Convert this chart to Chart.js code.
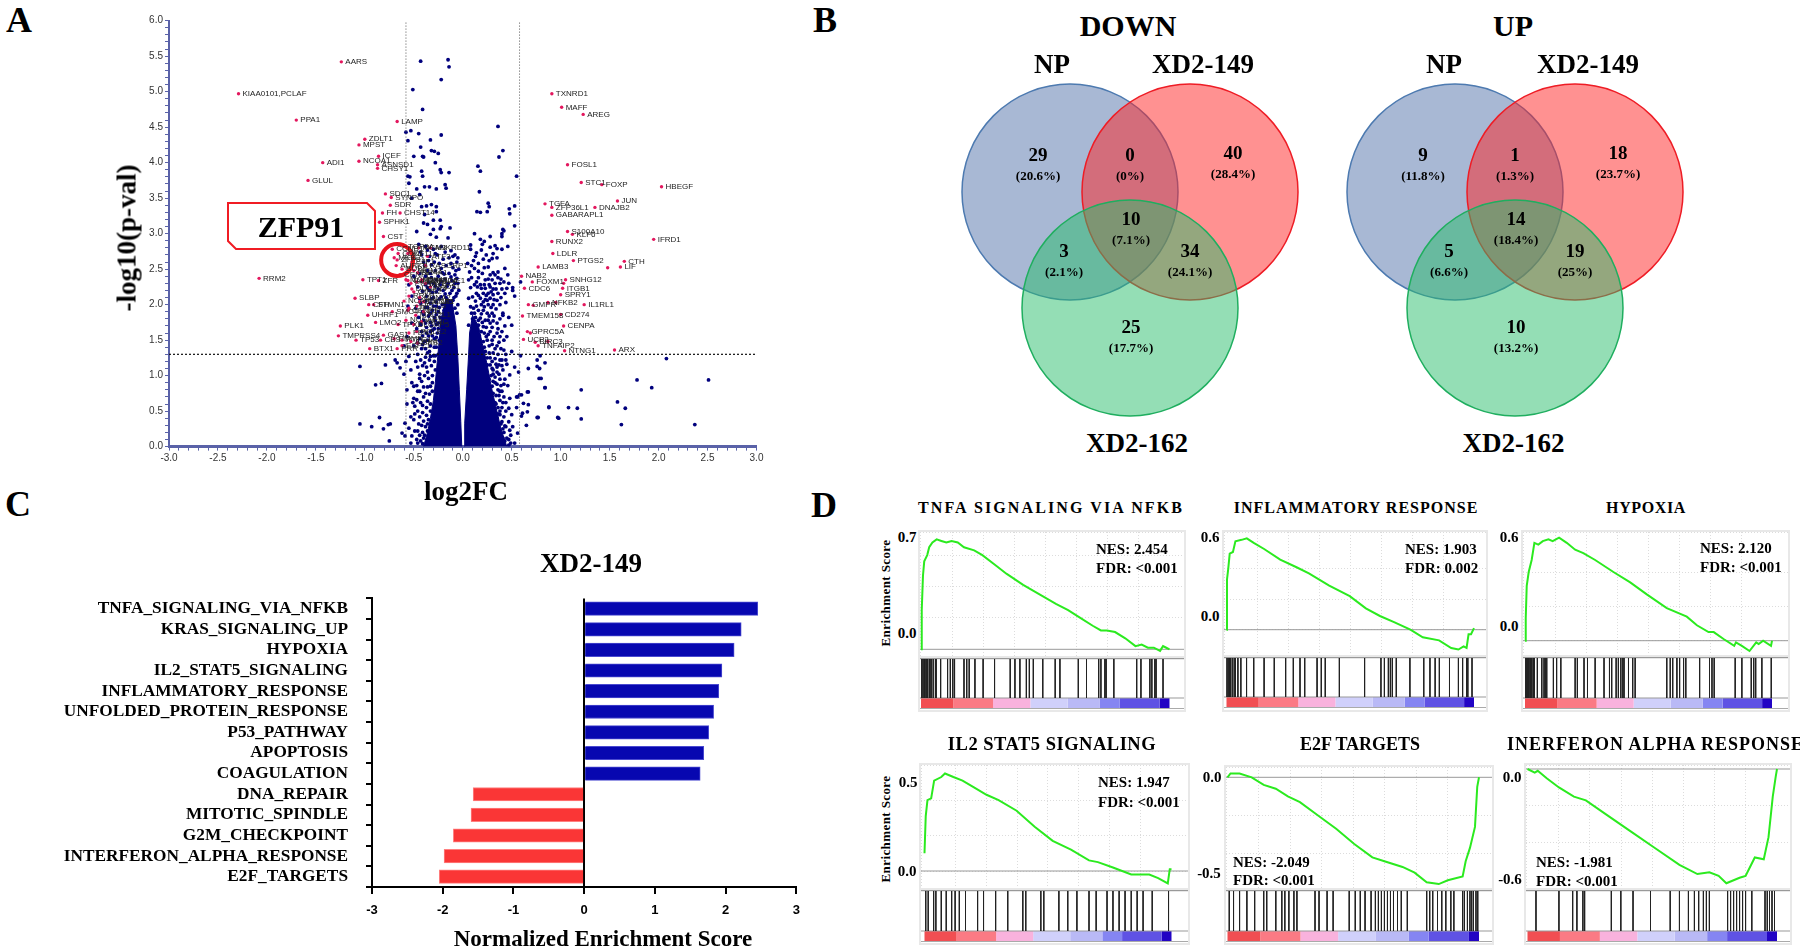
<!DOCTYPE html>
<html>
<head>
<meta charset="utf-8">
<title>XD2 figure</title>
<script src="https://cdn.jsdelivr.net/npm/chart.js@4"></script>
<style>
  html, body { margin: 0; background: #fff; }
  #page { position: relative; width: 1800px; height: 952px; overflow: hidden; background: #fff; filter: blur(0.45px); }
  #page canvas { position: absolute; }
  .txt { position: absolute; white-space: nowrap; color: #000; transform: translate(-50%, -50%); }
  .txtL { position: absolute; white-space: nowrap; color: #000; transform: translateY(-50%); }
</style>
</head>
<body>
<div id="page"></div>
<script>
// ---- panel A: volcano plot ----
const xTickStep = 0.1;
const pCutoff = 1.3;
const fcCutoff = 0.58;

const downGenes = ['AARS','KIAA0101,PCLAF','PPA1','LAMP','ZDLT1','MPST','ICEF','NCOA1','ADI1','GLUL','ASNSD1','CHSY1','SDC1','SYNPO','SDR','FH','CHST14','SPHK1','CST','RRM2','TPT1','ZFR','SLBP','CFH','STMN1','UHRF1','LMO2','PLK1','TMPRSS4','TP53','BTX1','PRR','GAS1','CBS'];
const downX = [-1.24,-2.29,-1.70,-.67,-1.0,-1.06,-.86,-1.06,-1.43,-1.58,-.87,-.87,-.79,-.73,-.74,-.82,-.64,-.85,-.81,-2.08,-1.02,-.86,-1.1,-.96,-.91,-.97,-.89,-1.25,-1.27,-1.09,-.95,-.67,-.81,-.84];
const downY = [5.42,4.97,4.60,4.58,4.33,4.25,4.09,4.02,4.0,3.75,3.97,3.92,3.56,3.51,3.40,3.29,3.29,3.16,2.96,2.37,2.35,2.34,2.09,2.0,2.0,1.85,1.75,1.70,1.56,1.50,1.38,1.38,1.57,1.50];

const upGenes = ['TXNRD1','MAFF','AREG','FOSL1','STC1','FOXP','HBEGF','JUN','TGFA','ZFP36L1','DNAJB2','GABARAPL1','S100A10','KLF6','RUNX2','IFRD1','LDLR','PTGS2','CTH','LIF','LAMB3','NAB2','FOXM1','CDC6','SNHG12','ITGB1','SPRY1','IL1RL1','GMPR','NFKB2','CD274','CENPA','TMEM158','GPRC5A','UCP2','BIRC3','TNFAIP2','NTNG1','ARX'];
const upX = [.91,1.01,1.23,1.07,1.21,1.42,2.03,1.58,.84,.91,1.35,.91,1.07,1.12,.91,1.95,.92,1.13,1.65,1.61,.77,.6,.71,.63,1.05,1.02,1.0,1.24,.67,.87,1.0,1.03,.61,.66,.62,.74,.77,1.04,1.55];
const upY = [4.97,4.78,4.68,3.97,3.72,3.69,3.66,3.46,3.42,3.37,3.37,3.26,3.03,2.99,2.89,2.92,2.72,2.62,2.61,2.53,2.53,2.4,2.32,2.23,2.35,2.23,2.14,2.0,2.0,2.03,1.86,1.7,1.84,1.62,1.51,1.47,1.42,1.35,1.36];
const extraPinkX = [1.48,.69,.87,.72,.95,1.03];
const extraPinkY = [2.52,1.6,1.48,1.99,2.03,2.3];

// labels packed around the ZFP91 circle, hardly readable in the picture
const clusterGenes = ['ZFP91','CCNB1','CDK1','TOP2A','AURKB','BUB1','MKI67','CENPF','KIF11','E2F1','MCM2','MCM3','MCM5','PCNA','CDC20','TYMS','RRM1','GINS2','CCNA2','MYBL2','NCAPG','TTK','HELLS','LMNB1','SMC4','TPX2','NUSAP1','DLGAP5','KIF2C','HMMR','PTTG1','ASPM','CKS2','ESPL1','CENPE','MAD2L1','FEN1','POLE2','DTL','RAD51','TNFRSF12A','SERPINE1','ANKRD11','NR4A1','RASGRP1','DUSP14','SLC7A5','ATF3'];
const clusterX = [-.67,-.72,-.66,-.6,-.68,-.62,-.7,-.64,-.56,-.52,-.5,-.45,-.58,-.53,-.47,-.42,-.55,-.5,-.44,-.38,-.6,-.55,-.47,-.4,-.72,-.66,-.58,-.5,-.42,-.7,-.62,-.53,-.46,-.62,-.56,-.48,-.55,-.47,-.4,-.33,-.56,-.42,-.33,-.46,-.38,-.52,-.44,-.36];
const clusterY = [2.63,2.78,2.72,2.82,2.55,2.5,2.66,2.42,2.72,2.6,2.48,2.8,2.35,2.3,2.32,2.35,2.12,2.18,2.1,2.3,2.05,1.95,1.98,2.04,1.9,1.72,1.78,1.72,1.76,1.52,1.5,1.48,1.46,1.42,1.92,1.85,1.6,1.62,1.9,2.25,2.34,2.33,2.8,2.45,2.55,2.22,2.04,2.68];

const zfp91Point = [{x: -.67, y: 2.63}];

const leftLobe = [[-.40,0],[-.36,.2],[-.33,.4],[-.3,.65],[-.28,.9],[-.26,1.2],[-.24,1.5],[-.22,1.8],[-.17,2.1],[-.11,2.05],[-.07,1.7],[-.05,1.25],[-.035,.8],[-.02,.35],[-.01,0]];
const rightLobe = [[.015,0],[.02,.33],[.04,.8],[.06,1.3],[.07,1.6],[.1,1.85],[.16,1.7],[.2,1.45],[.25,1.15],[.29,.85],[.34,.55],[.39,.25],[.45,0]];

const blueTop = [[-.43,5.43],[-.15,5.45],[-.14,5.35],[-.22,5.17],[-.51,5.03],[-.41,4.75],[.36,4.51],[.41,4.17],[.37,4.08],[-.58,4.43],[-.53,4.45],[-.45,4.41],[-.56,4.31],[-.33,4.32],[-.22,4.39],[-.43,4.22],[-.32,4.17],[-.29,4.16],[-.25,4.13],[-.5,4.09],[-.41,4.09],[-.4,4.08],[-.28,4.0],[-.23,3.9],[-.22,3.86],[-.14,3.86],[-.42,3.88],[-.41,3.81],[-.56,3.81],[-.54,3.8],[.155,3.95],[.18,3.88],[.55,3.81],[-.55,3.71],[-.47,3.63],[-.39,3.66],[-.34,3.66],[-.27,3.63],[-.18,3.69],[-.17,3.64],[.17,3.59],[-.52,3.5],[-.44,3.55],[-.37,3.39],[-.32,3.41],[-.27,3.38],[-.27,3.31],[-.42,3.38],[.26,3.43],[.27,3.38],[.145,3.31],[.18,3.3],[.25,3.31],[.53,3.39],[.475,3.35],[.48,3.28],[-.39,3.27],[-.4,3.15],[-.36,3.13],[-.3,3.19],[-.23,3.19],[-.22,3.1],[-.13,3.08],[.53,3.11],[.41,3.06],[.4,3.0],[-.47,3.03],[-.3,3.06],[-.23,3.07],[-.33,2.99],[-.27,2.95],[-.15,2.94]];
const blueRight = [[.12,3.0],[.42,3.04],[.40,2.96],[.28,2.96],[.18,2.92],[.22,2.89],[.20,2.85],[.08,2.84],[.33,2.83],[.28,2.81],[.35,2.79],[.40,2.78],[.46,2.82],[.14,2.73],[.19,2.77],[.31,2.72],[.35,2.66],[.30,2.65],[.13,2.68],[.21,2.64],[.05,2.58],[.12,2.51],[.07,2.46],[.22,2.52],[.26,2.53],[.31,2.45],[.43,2.51],[.33,2.42],[.46,2.42],[.39,2.36],[.59,2.32],[.06,2.35],[.14,2.32],[.12,2.28],[.18,2.28],[.26,2.36],[.33,2.3],[.38,2.3],[.42,2.32],[.47,2.3],[.51,2.24],[.51,2.2],[.45,2.23],[.43,2.16],[.53,2.12],[.19,2.23],[.23,2.23],[.28,2.25],[.31,2.22],[.21,2.16],[.26,2.16],[.31,2.14],[.36,2.16],[.14,2.16],[.06,2.09],[.18,2.09],[.23,2.07],[.28,2.09],[.19,2.0],[.26,2.0],[.31,2.0],[.35,2.06],[.11,1.95],[.16,1.92],[.21,1.92],[.25,1.88],[.09,1.88],[.13,1.82],[.18,1.81],[.23,1.78],[.11,1.76],[.06,1.71],[.16,1.71],[.21,1.69],[.28,1.74],[.35,1.74],[.41,1.88],[.41,1.85],[.47,1.82],[.5,1.71],[.3,1.88],[.11,1.64],[.19,1.62],[.28,1.62],[.35,1.6],[.45,1.55],[.24,1.55],[.3,1.5],[.27,1.42],[.33,1.38],[.37,1.47],[.22,1.4]];
const blueLowRight = [[.76,1.22],[.79,1.28],[.84,1.18],[.78,.96],[.84,.83],[.88,.56],[.77,.41],[.98,.40],[.67,.77],[.62,.61],[.67,.59],[.66,.49],[.6,.43],[.65,.3],[.57,1.05],[.53,1.12],[.48,1.01],[.43,.95],[.4,1.22],[.33,1.24],[.5,1.34],[.42,1.36],[.59,1.28],[.58,.73],[.55,.7],[.48,.68],[.47,.54],[.55,.55],[.47,.35],[.51,.28],[.43,.29],[.53,.05],[.47,.02],[.3,1.1],[.35,1.05],[.38,.95],[.33,.9],[.3,.85],[.36,.8],[.4,.78],[.42,.7],[.38,.65],[.34,.6],[.4,.55],[.44,.5],[.38,.45],[.35,.4],[.4,.35],[.32,.3],[.36,.25],[.42,.2],[.38,.15],[.33,.1],[.45,.12],[.28,1.25],[.25,1.15],[.27,.95],[.24,.8],[.31,1.02],[.37,1.15],[.45,1.16],[.41,1.08],[.46,.86],[.39,.86],[.44,.62],[.5,.45],[.41,.12],[.49,.16]];
const blueOutRight = [[2.08,1.24],[1.78,.94],[2.51,.94],[1.93,.83],[1.21,.8],[.84,.83],[1.58,.63],[1.66,.54],[2.37,.31],[1.62,.31],[1.21,.39],[.97,.41],[1.08,.55],[1.17,.54],[.88,.55],[.76,.41],[.66,.77],[.6,.73],[.8,.96],[.785,1.1],[.67,1.1],[.76,1.13],[.56,.7],[.61,.47],[.48,.23],[.56,.19]];
const blueOutLeft = [[-1.05,1.13],[-.89,.87],[-.83,.89],[-1.05,.32],[-.93,.28],[-.85,.41],[-.81,.25],[-.76,.31],[-.74,.32],[-.75,.08],[-.69,1.22],[-.67,1.18],[-.64,1.11],[-.79,1.15],[-.52,.9],[-.57,.8],[-.5,.85],[-.49,.57],[-.59,.33],[-.55,.26],[-.59,.15],[-.52,.15],[-.47,.1],[-.62,.19],[-.58,1.2],[-.55,1.27],[-.6,1.02],[-.53,1.08],[-.48,1.2],[-.44,1.02],[-.57,.6],[-.5,.68],[-.46,.78],[-.42,.92],[-.44,.42],[-.5,.38],[-.46,.22],[-.42,.3],[-.4,.12],[-.53,.05],[-.43,.62],[-.38,.75],[-.36,1.05],[-.39,1.18],[-.34,1.22],[-.33,.85],[-.37,.55],[-.35,.38]];
const blueMidLeft = [[-.45,2.85],[-.38,2.82],[-.3,2.78],[-.22,2.82],[-.12,2.76],[-.08,2.7],[-.42,2.7],[-.34,2.68],[-.26,2.7],[-.2,2.64],[-.14,2.66],[-.06,2.6],[-.4,2.6],[-.32,2.56],[-.24,2.58],[-.17,2.55],[-.1,2.52],[-.04,2.5],[-.36,2.48],[-.28,2.48],[-.21,2.45],[-.14,2.44],[-.08,2.42],[-.32,2.38],[-.25,2.4],[-.18,2.36],[-.11,2.34],[-.05,2.3],[-.38,2.28],[-.3,2.3],[-.23,2.28],[-.16,2.26],[-.09,2.24],[-.04,2.2],[-.34,2.2],[-.27,2.18],[-.2,2.2],[-.13,2.16],[-.07,2.12],[-.37,2.12],[-.3,2.1],[-.24,2.08],[-.17,2.1],[-.1,2.06],[-.05,2.0],[-.33,2.02],[-.27,1.98],[-.21,2.0],[-.14,1.98],[-.08,1.95],[-.38,1.96],[-.31,1.92],[-.25,1.9],[-.19,1.92],[-.35,1.84],[-.29,1.82],[-.23,1.82],[-.4,1.78],[-.33,1.75],[-.27,1.72],[-.22,1.7],[-.37,1.68],[-.31,1.64],[-.26,1.6],[-.42,1.62],[-.35,1.56],[-.29,1.52],[-.24,1.5],[-.39,1.48],[-.33,1.42],[-.27,1.4],[-.42,1.38],[-.36,1.32],[-.3,1.28],[-.25,1.3],[-.46,1.3],[-.5,1.42],[-.44,1.52],[-.47,1.66],[-.45,1.82],[-.48,1.95],[-.44,2.08],[-.46,2.25],[-.5,2.4],[-.55,2.28],[-.52,2.12],[-.56,1.98],[-.52,1.74],[-.57,1.55],[-.6,1.42]];
const blueFillLeft = [[-.43,2.74],[-.36,2.77],[-.28,2.72],[-.18,2.74],[-.1,2.68],[-.05,2.66],[-.39,2.55],[-.35,2.62],[-.29,2.6],[-.22,2.51],[-.12,2.58],[-.07,2.48],[-.44,2.44],[-.38,2.4],[-.33,2.44],[-.27,2.35],[-.19,2.43],[-.12,2.39],[-.06,2.37],[-.42,2.33],[-.35,2.31],[-.28,2.26],[-.22,2.33],[-.15,2.3],[-.08,2.3],[-.41,2.19],[-.36,2.24],[-.31,2.17],[-.25,2.22],[-.18,2.15],[-.11,2.2],[-.06,2.16],[-.43,2.02],[-.38,2.05],[-.32,2.08],[-.27,2.04],[-.22,2.11],[-.15,2.05],[-.09,2.1],[-.41,1.9],[-.36,1.96],[-.3,1.98],[-.24,1.96],[-.18,1.86],[-.12,1.9],[-.06,1.88],[-.4,1.86],[-.33,1.88],[-.27,1.86],[-.21,1.76],[-.43,1.72],[-.38,1.74],[-.32,1.7],[-.28,1.77],[-.25,1.74],[-.41,1.56],[-.37,1.6],[-.33,1.62],[-.29,1.66],[-.25,1.66],[-.46,1.46],[-.41,1.44],[-.36,1.5],[-.31,1.56],[-.27,1.54],[-.38,1.38],[-.34,1.34],[-.29,1.4],[-.28,1.28],[-.43,1.22],[-.38,1.26],[-.33,1.27],[-.29,1.2],[-.46,1.12],[-.41,1.14],[-.37,1.12],[-.32,1.14],[-.28,1.08],[-.44,.96],[-.39,1.0],[-.35,.96],[-.31,1.0],[-.47,.86],[-.4,.84],[-.36,.84],[-.31,.9],[-.44,.78],[-.4,.7],[-.34,.74],[-.31,.78],[-.47,.66],[-.41,.58],[-.36,.64],[-.33,.6],[-.46,.5],[-.41,.48],[-.37,.44],[-.33,.5],[-.45,.32],[-.4,.36],[-.38,.28],[-.36,.32],[-.44,.16],[-.41,.2],[-.39,.16],[-.36,.22],[-.46,.05],[-.43,.08],[-.41,.04],[-.49,.22],[-.49,.46],[-.53,.42],[-.51,.62]];
const blueFillRight = [[.08,2.78],[.11,2.62],[.16,2.58],[.24,2.7],[.27,2.62],[.09,2.55],[.16,2.47],[.2,2.44],[.28,2.42],[.36,2.46],[.09,2.38],[.16,2.38],[.23,2.35],[.3,2.35],[.36,2.38],[.08,2.24],[.15,2.25],[.22,2.28],[.27,2.28],[.4,2.22],[.1,2.11],[.16,2.13],[.24,2.13],[.29,2.18],[.34,2.22],[.39,2.1],[.13,2.05],[.21,2.04],[.25,2.06],[.32,2.07],[.38,2.0],[.44,2.03],[.08,1.97],[.14,1.98],[.22,1.97],[.29,1.96],[.34,1.94],[.12,1.88],[.19,1.87],[.27,1.84],[.32,1.84],[.38,1.8],[.1,1.8],[.16,1.78],[.2,1.75],[.26,1.78],[.31,1.77],[.43,1.7],[.14,1.65],[.24,1.68],[.3,1.68],[.36,1.66],[.4,1.62],[.17,1.56],[.22,1.6],[.26,1.58],[.32,1.55],[.38,1.55],[.42,1.5],[.21,1.48],[.25,1.5],[.3,1.44],[.35,1.42],[.39,1.38],[.23,1.34],[.27,1.32],[.31,1.32],[.36,1.3],[.44,1.3],[.25,1.25],[.3,1.2],[.34,1.16],[.38,1.22],[.44,1.22],[.28,1.15],[.31,1.08],[.35,1.12],[.4,1.14],[.29,1.0],[.33,.98],[.37,1.02],[.42,.88],[.31,.92],[.35,.88],[.38,.78],[.34,.72],[.31,.75],[.37,.72],[.41,.62],[.36,.55],[.33,.62],[.38,.5],[.42,.42],[.36,.46],[.41,.25],[.39,.32],[.44,.28],[.43,.08],[.47,.1],[.49,.05]];

// ---- panel B: venn diagrams ----
// regions: NP, NP+149, 149, all, NP+162, 149+162, 162
const downCounts = [29,0,40,10,3,34,25];
const downPct = ['20.6%','0%','28.4%','7.1%','2.1%','24.1%','17.7%'];
const upCounts = [9,1,18,14,5,19,10];
const upPct = ['11.8%','1.3%','23.7%','18.4%','6.6%','25%','13.2%'];

// ---- panel C: normalized enrichment scores ----
const pathways = ['TNFA_SIGNALING_VIA_NFKB','KRAS_SIGNALING_UP','HYPOXIA','IL2_STAT5_SIGNALING','INFLAMMATORY_RESPONSE','UNFOLDED_PROTEIN_RESPONSE','P53_PATHWAY','APOPTOSIS','COAGULATION','DNA_REPAIR','MITOTIC_SPINDLE','G2M_CHECKPOINT','INTERFERON_ALPHA_RESPONSE','E2F_TARGETS'];
const nesValues = [2.454,2.22,2.12,1.947,1.903,1.83,1.76,1.69,1.64,-1.57,-1.6,-1.85,-1.981,-2.049];

// ---- panel D: GSEA running scores (rank as % of the list) ----
const tnfaRank = [0,.3,.8,1.3,2.5,3.3,4.6,6.3,8.2,10.2,12.3,14.8,17.3,21.4,24.7,29.6,34.5,41.1,47.7,54.3,59.2,64.1,69.1,72.4,74.8,78.1,82.2,86.3,88.8,91.3,93.7,96.2,97.4,98.7,100];
const tnfaEs = [0,.25,.47,.56,.60,.65,.68,.70,.69,.68,.69,.68,.65,.63,.60,.54,.48,.41,.35,.29,.25,.20,.15,.12,.12,.11,.07,.02,.03,.01,.01,-.01,.02,.01,0];
const tnfaHits = [.3,.8,1.3,1.6,2.1,2.6,3.3,3.6,4.1,4.9,5.8,6.1,7.9,10.7,11.8,12.8,13.5,17.3,18.4,19.4,21.7,25,29.6,35.9,37.8,39.8,42.4,43.6,45.2,49,54,55.9,63.3,66.6,71.5,72.4,74,74.5,77.6,86.8,88.5,92.1,92.9,94.1,94.6,97.4];

const inflamRank = [0,.2,.7,1.3,2.6,3.6,6.1,8.2,11,15.2,21.7,28.3,33.3,41.5,49.8,56.3,62,67.7,74.3,79.3,85.9,90.8,93.7,95.8,97,97.8,98.8,100];
const inflamEs = [0,.33,.40,.50,.51,.58,.59,.60,.57,.53,.46,.41,.37,.29,.22,.14,.09,.05,0,-.05,-.07,-.12,-.13,-.11,-.12,-.03,-.03,.01];
const inflamHits = [.2,.7,1.2,1.6,2.3,3.1,3.6,4.6,5.8,8.1,11,15.2,19.3,23.9,27,29.7,31.6,36.6,38.3,39.9,45.6,55.8,62.4,63.8,65.4,66.2,67,68.6,74.1,79.7,82.2,84.3,86,90.1,93.7,95.4,97,97.5,99.2];

const hypoxiaRank = [0,.3,.7,1.5,2.7,3.8,5.4,7.2,9.5,11.2,13.8,16.9,20.3,23.6,28.4,35.8,42.6,49.3,57.4,65.5,69.6,74.3,76.4,80.4,84.7,85.4,87.8,90.9,93.6,94.6,96.4,99.6,100];
const hypoxiaEs = [0,.13,.32,.40,.47,.57,.56,.58,.59,.58,.60,.57,.53,.51,.47,.40,.34,.27,.19,.14,.09,.05,.05,.01,-.03,-.01,-.03,-.06,-.01,-.02,0,-.03,0];
const hypoxiaHits = [.3,.7,1.1,1.5,2,2.4,2.8,3.4,3.8,5,6.8,7.7,8.2,8.8,11.5,12.8,14.5,20.3,21.2,23.9,25.3,28.4,32,34.2,35.1,36.9,37.8,38.8,39.6,40.1,41.9,43.6,44.6,57.4,58.8,59.8,61.5,62.6,64.2,65.1,70.7,74.7,75.7,76.6,85.1,87.8,91.6,92.6,93.4,95.9,99.7];

const il2Rank = [0,.5,1.2,2.7,3.9,6.8,8.3,11.7,15.4,20.2,25.1,30,37.3,44.6,51.9,59.3,66.6,70.2,76.3,83.7,91,94.6,98.5,99.3,100];
const il2Es = [.10,.31,.40,.41,.51,.53,.55,.53,.51,.47,.43,.40,.34,.25,.17,.12,.06,.05,.02,-.02,-.02,-.04,-.07,.01,.01];
const il2Hits = [.5,1.5,3.7,4.6,6.8,8.8,11,12.4,14.1,16.6,21.5,23.9,28.8,33.7,39.8,41,47.1,48.3,54.4,58,61.7,66.6,69.5,73.9,76.3,78.8,81.2,83.7,86.1,88.5,92.2,98.8];

const e2fRank = [0,1.2,4.8,9.6,14.4,19.2,24,28.8,36,43.2,50.4,57.6,62.4,69.6,74.4,79.2,84,87.6,93.5,94.7,96.4,98.4,99.3,100];
const e2fEs = [0,.02,.02,0,-.04,-.06,-.10,-.13,-.20,-.27,-.35,-.42,-.44,-.47,-.50,-.55,-.56,-.54,-.52,-.44,-.37,-.26,-.05,0];
const e2fHits = [.7,2.4,4.8,7.7,10.8,14.4,15.6,19.2,21.6,22.8,24.4,26.4,27.6,34.8,36.4,39.6,42,48.4,50.8,52.8,54.7,57.1,58.8,60,61.2,62.4,63.6,64.8,66,67.6,69.1,71.5,79.2,80.4,81.6,83.5,85.2,86.8,88.8,90,93.5,94.2,95.4,96.4,97.1,97.8,98.8,99.5];

const ifnRank = [0,2.9,4.1,7.7,12.6,18.6,23.4,31.9,41.5,51.2,60.9,68.1,72.9,76.6,79.7,85,87.4,91.1,94.7,96.6,98.3,99.5,100];
const ifnEs = [0,-.02,-.01,-.05,-.10,-.15,-.17,-.25,-.34,-.43,-.52,-.57,-.56,-.58,-.62,-.59,-.58,-.48,-.49,-.37,-.15,-.04,0];
const ifnHits = [3.4,12.6,18.1,19.8,22.2,22.9,33.6,37.4,42.3,49.3,57.2,60.9,64.5,66.9,68.6,70.5,71.7,72.9,80.2,81.4,82.6,83.8,85,86.2,87.4,89.9,95.2,96.1,97,98,99];

const rankStops = [0,13,29,44,59,72,80,96,100];
const rankColors = ['#f14e52','#fb7a84','#f9b2dd','#d0d0fb','#b9b9f6','#8585f2','#5f52e4','#2204c4'];

const SERIF = '"Liberation Serif", serif';
const SANS = '"Liberation Sans", sans-serif';
const page = document.getElementById('page');

Chart.defaults.animation = false;
Chart.defaults.responsive = false;
Chart.defaults.layout.autoPadding = false;
Chart.defaults.plugins.legend.display = false;
Chart.defaults.plugins.tooltip.enabled = false;

function addCanvas(left, top, w, h) {
  const c = document.createElement('canvas');
  c.width = w;
  c.height = h;
  c.style.left = left + 'px';
  c.style.top = top + 'px';
  page.appendChild(c);
  return c;
}

function put(text, x, y, font, extra) {
  const d = document.createElement('div');
  d.className = 'txt';
  d.textContent = text;
  d.style.left = x + 'px';
  d.style.top = y + 'px';
  d.style.font = font;
  if (extra) Object.assign(d.style, extra);
  page.appendChild(d);
  return d;
}

function putLeft(text, x, y, font, extra) {
  const d = put(text, x, y, font, extra);
  d.className = 'txtL';
  return d;
}

const pts = (a) => a.map((p) => ({ x: p[0], y: p[1] }));
const zip = (xs, ys) => xs.map((x, i) => ({ x: x, y: ys[i] }));

// panel letters
put('A', 19, 20, 'bold 36px ' + SERIF);
put('B', 825, 20, 'bold 36px ' + SERIF);
put('C', 18, 504, 'bold 36px ' + SERIF);
put('D', 824, 505, 'bold 36px ' + SERIF);

// ---- A ----
const axisBlue = '#5a62a8';
const geneLabels = {
  id: 'geneLabels',
  afterDatasetsDraw(chart) {
    const { ctx, scales } = chart;
    ctx.save();
    ctx.font = '8px ' + SANS;
    ctx.fillStyle = '#222';
    ctx.textBaseline = 'middle';
    const draw = (names, xs, ys) => names.forEach((n, i) => {
      ctx.fillText(n, scales.x.getPixelForValue(xs[i]) + 4, scales.y.getPixelForValue(ys[i]));
    });
    draw(downGenes, downX, downY);
    draw(upGenes, upX, upY);
    draw(clusterGenes, clusterX, clusterY);
    ctx.restore();
  }
};

const tickText = (v) => {
  if (Math.abs(v) < 1e-9) return '0.0';
  return Math.round(v * 10) % 5 === 0 ? v.toFixed(1) : '';
};

new Chart(addCanvas(125, 10, 650, 470), {
  type: 'scatter',
  data: {
    datasets: [
      { data: zfp91Point, pointRadius: 16, pointBorderWidth: 4, pointBorderColor: '#e8121c', pointBackgroundColor: 'rgba(0,0,0,0)', order: 0 },
      { data: zip(downX, downY).concat(zip(upX, upY), zip(extraPinkX, extraPinkY), zip(clusterX, clusterY)), pointRadius: 1.7, pointBorderWidth: 0, pointBackgroundColor: '#e3175e', order: 1 },
      { data: [{ x: -3, y: pCutoff }, { x: 3, y: pCutoff }], showLine: true, pointRadius: 0, borderColor: '#111', borderWidth: 1.2, borderDash: [2, 2], order: 2 },
      { data: [{ x: -fcCutoff, y: 0 }, { x: -fcCutoff, y: 6 }], showLine: true, pointRadius: 0, borderColor: '#555', borderWidth: 1, borderDash: [1, 2], order: 2 },
      { data: [{ x: fcCutoff, y: 0 }, { x: fcCutoff, y: 6 }], showLine: true, pointRadius: 0, borderColor: '#555', borderWidth: 1, borderDash: [1, 2], order: 2 },
      { data: pts(blueTop).concat(pts(blueRight), pts(blueLowRight), pts(blueOutRight), pts(blueOutLeft), pts(blueMidLeft), pts(blueFillLeft), pts(blueFillRight)), pointRadius: 1.9, pointBorderWidth: 0, pointBackgroundColor: '#00007d', order: 3 },
      { data: pts(leftLobe), showLine: true, fill: 'shape', pointRadius: 0, borderColor: '#00007d', borderWidth: 1, backgroundColor: '#00007d', order: 4 },
      { data: pts(rightLobe), showLine: true, fill: 'shape', pointRadius: 0, borderColor: '#00007d', borderWidth: 1, backgroundColor: '#00007d', order: 4 }
    ]
  },
  options: {
    layout: { padding: { top: 10.7, right: 18.5 } },
    scales: {
      x: {
        min: -3, max: 3,
        afterFit(s) { s.height = 33.4; },
        ticks: { stepSize: xTickStep, autoSkip: false, maxRotation: 0, minRotation: 0, callback: tickText, padding: 2, color: '#333', font: { family: SANS, size: 10 } },
        grid: { drawOnChartArea: false, tickLength: 4, color: axisBlue },
        border: { color: axisBlue, width: 3 }
      },
      y: {
        min: 0, max: 6,
        afterFit(s) { s.width = 44; },
        ticks: { stepSize: xTickStep, autoSkip: false, callback: tickText, padding: 2, color: '#333', font: { family: SANS, size: 10 } },
        grid: { drawOnChartArea: false, tickLength: 4, color: axisBlue },
        border: { color: axisBlue, width: 2 }
      }
    }
  },
  plugins: [geneLabels]
});

put('-log10(p-val)', 127, 238, 'bold 27px ' + SERIF, { transform: 'translate(-50%,-50%) rotate(-90deg)' });
put('log2FC', 466, 491, 'bold 27px ' + SERIF);

// ZFP91 callout
page.insertAdjacentHTML('beforeend',
  '<svg style="position:absolute;left:0;top:0" width="400" height="260">' +
  '<polygon points="228,203 367,203 375,211 375,249 236,249 228,241" fill="#fff" stroke="#f01c24" stroke-width="2"/></svg>');
put('ZFP91', 301, 227, 'bold 30px ' + SERIF);

// ---- B ----
const vennSpots = [[88, 80, 101], [180, 80, 101], [283, 78, 99], [181, 144, 165], [114, 176, 197], [240, 176, 197], [181, 252, 273]];
const vennCircles = [
  { x: 120, y: 116, r: 108 },
  { x: 240, y: 116, r: 108 },
  { x: 180, y: 232, r: 108 }
];

function vennChart(left, counts, pcts) {
  const vennLabels = {
    id: 'vennLabels',
    afterDatasetsDraw(chart) {
      const { ctx, scales } = chart;
      ctx.save();
      ctx.fillStyle = '#000';
      ctx.textAlign = 'center';
      ctx.textBaseline = 'middle';
      vennSpots.forEach((s, i) => {
        const px = scales.x.getPixelForValue(s[0]);
        ctx.font = 'bold 19px ' + SERIF;
        ctx.fillText(String(counts[i]), px, scales.y.getPixelForValue(s[1]));
        ctx.font = 'bold 13px ' + SERIF;
        ctx.fillText('(' + pcts[i] + ')', px, scales.y.getPixelForValue(s[2]));
      });
      ctx.restore();
    }
  };
  new Chart(addCanvas(left, 76, 360, 350), {
    type: 'bubble',
    data: {
      datasets: [
        { data: [vennCircles[2]], backgroundColor: 'rgba(41,190,107,0.5)', borderColor: '#1fae5f', borderWidth: 1.5, order: 0 },
        { data: [vennCircles[1]], backgroundColor: 'rgba(255,36,36,0.5)', borderColor: '#ee1c25', borderWidth: 1.5, order: 1 },
        { data: [vennCircles[0]], backgroundColor: 'rgba(81,113,170,0.5)', borderColor: '#4d7ab0', borderWidth: 1.5, order: 2 }
      ]
    },
    options: {
      scales: {
        x: { min: 0, max: 360, display: false },
        y: { min: 0, max: 350, reverse: true, display: false }
      }
    },
    plugins: [vennLabels]
  });
}
vennChart(949.5, downCounts, downPct);
vennChart(1335, upCounts, upPct);

put('DOWN', 1128, 26, 'bold 30px ' + SERIF);
put('UP', 1513, 26, 'bold 30px ' + SERIF);
put('NP', 1052, 64, 'bold 27px ' + SERIF);
put('XD2-149', 1203, 64, 'bold 27px ' + SERIF);
put('NP', 1444, 64, 'bold 27px ' + SERIF);
put('XD2-149', 1588, 64, 'bold 27px ' + SERIF);
put('XD2-162', 1137, 443, 'bold 27px ' + SERIF);
put('XD2-162', 1513.5, 443, 'bold 27px ' + SERIF);

// ---- C ----
// the top and right edges of the plot come from label size plus tick padding
new Chart(addCanvas(40, 570, 769, 360), {
  type: 'bar',
  data: {
    labels: pathways,
    datasets: [{
      data: nesValues,
      barThickness: 13.5,
      backgroundColor: nesValues.map((v) => (v > 0 ? '#0707b0' : '#fa3636')),
      borderWidth: 1,
      borderColor: nesValues.map((v) => (v > 0 ? '#4a4ad0' : '#ff8080'))
    }]
  },
  options: {
    indexAxis: 'y',
    layout: { padding: { right: 3 } },
    scales: {
      x: {
        min: -3, max: 3,
        afterFit(s) { s.height = 43; },
        ticks: { stepSize: 1, padding: 9, color: '#000', font: { family: SANS, size: 13, weight: 'bold' } },
        grid: {
          tickLength: 7,
          tickColor: '#000',
          lineWidth: 2,
          color: (c) => (c.tick && c.tick.value === 0 ? '#000' : 'rgba(0,0,0,0)')
        },
        border: { color: '#000', width: 2 }
      },
      y: {
        afterFit(s) { s.width = 332; },
        ticks: { autoSkip: false, padding: 18, color: '#000', font: { family: SERIF, size: 17.3, weight: 'bold' } },
        grid: { drawOnChartArea: false, tickLength: 6, tickColor: '#000', lineWidth: 2 },
        border: { color: '#000', width: 2 }
      }
    }
  }
});

put('XD2-149', 591, 563, 'bold 27px ' + SERIF);
put('Normalized Enrichment Score', 603, 939, 'bold 23px ' + SERIF);

// ---- D ----
const gseaPanels = [
  { title: 'TNFA SIGNALING VIA NFKB', rank: tnfaRank, es: tnfaEs, hits: tnfaHits, nes: 'NES: 2.454', fdr: 'FDR: <0.001',
    box: { left: 920, right: 1184, top: 532, esBottom: 658, hitBottom: 698, barBottom: 708, bottom: 710, x0: 921, end: 1169.5, zero: 649.3, unit: 157 } },
  { title: 'INFLAMMATORY RESPONSE', rank: inflamRank, es: inflamEs, hits: inflamHits, nes: 'NES: 1.903', fdr: 'FDR: 0.002',
    box: { left: 1224, right: 1486, top: 532, esBottom: 657, hitBottom: 697, barBottom: 707, bottom: 710, x0: 1226.5, end: 1474, zero: 629.7, unit: 152.3 } },
  { title: 'HYPOXIA', rank: hypoxiaRank, es: hypoxiaEs, hits: hypoxiaHits, nes: 'NES: 2.120', fdr: 'FDR: <0.001',
    box: { left: 1523, right: 1788, top: 532, esBottom: 657, hitBottom: 698, barBottom: 708, bottom: 710, x0: 1525, end: 1772, zero: 640.7, unit: 171.7 } },
  { title: 'IL2 STAT5 SIGNALING', rank: il2Rank, es: il2Es, hits: il2Hits, nes: 'NES: 1.947', fdr: 'FDR: <0.001',
    box: { left: 921, right: 1188, top: 765, esBottom: 890, hitBottom: 931, barBottom: 941, bottom: 943, x0: 924.5, end: 1171.5, zero: 871, unit: 177.3 } },
  { title: 'E2F TARGETS', rank: e2fRank, es: e2fEs, hits: e2fHits, nes: 'NES: -2.049', fdr: 'FDR: <0.001',
    box: { left: 1226, right: 1492, top: 767, esBottom: 890, hitBottom: 931, barBottom: 941, bottom: 943, x0: 1227.5, end: 1479, zero: 777.3, unit: 190.7 } },
  { title: 'INERFERON ALPHA RESPONSE', rank: ifnRank, es: ifnEs, hits: ifnHits, nes: 'NES: -1.981', fdr: 'FDR: <0.001',
    box: { left: 1526, right: 1790, top: 765, esBottom: 890, hitBottom: 931, barBottom: 941, bottom: 943, x0: 1527.5, end: 1777, zero: 769, unit: 184.3 } }
];

function gseaPanel(p) {
  const b = p.box;
  const xMin = -(b.x0 - b.left) / (b.end - b.x0) * 100;
  const xMax = (b.right - b.x0) / (b.end - b.x0) * 100;
  const hiddenAxis = {
    grid: { color: '#dcdcdc', drawTicks: false },
    border: { display: false, dash: [1, 2] },
    ticks: { display: false }
  };

  const top = addCanvas(b.left, b.top, b.right - b.left, b.esBottom - b.top);
  top.style.boxShadow = '0 0 0 2px #e8e8e8';
  new Chart(top, {
    type: 'scatter',
    data: {
      datasets: [
        { data: zip(p.rank, p.es), showLine: true, pointRadius: 0, borderColor: '#2bea1f', borderWidth: 2, order: 0 },
        { data: [{ x: xMin, y: 0 }, { x: xMax, y: 0 }], showLine: true, pointRadius: 0, borderColor: '#999', borderWidth: 1, order: 1 }
      ]
    },
    options: {
      scales: {
        x: { ...hiddenAxis, min: xMin, max: xMax, ticks: { display: false, stepSize: 12.5 }, afterFit(s) { s.height = 0; } },
        y: { ...hiddenAxis, min: (b.zero - b.esBottom) / b.unit, max: (b.zero - b.top) / b.unit, ticks: { display: false, stepSize: 0.2 }, afterFit(s) { s.width = 0; } }
      }
    }
  });

  // hit marks and the ranking colour bar share one strip under the curve
  const hitLines = [];
  p.hits.forEach((h) => {
    hitLines.push({ x: h, y: b.esBottom + 1 }, { x: h, y: b.hitBottom }, { x: null, y: null });
  });
  const barY = (b.hitBottom + b.barBottom) / 2;
  const barSets = rankColors.map((c, i) => ({
    data: [{ x: rankStops[i], y: barY }, { x: rankStops[i + 1], y: barY }],
    showLine: true, pointRadius: 0, borderColor: c, borderWidth: b.barBottom - b.hitBottom, borderCapStyle: 'butt'
  }));
  const strip = addCanvas(b.left, b.esBottom, b.right - b.left, b.bottom - b.esBottom);
  strip.style.boxShadow = '0 0 0 2px #e8e8e8';
  new Chart(strip, {
    type: 'scatter',
    data: {
      datasets: [
        { data: hitLines, showLine: true, spanGaps: false, pointRadius: 0, borderColor: '#222', borderWidth: 1 },
        { data: [{ x: xMin, y: b.esBottom + 0.5 }, { x: xMax, y: b.esBottom + 0.5 }], showLine: true, pointRadius: 0, borderColor: '#999', borderWidth: 1 },
        { data: [{ x: xMin, y: b.hitBottom }, { x: xMax, y: b.hitBottom }], showLine: true, pointRadius: 0, borderColor: '#999', borderWidth: 1 },
        { data: [{ x: xMin, y: b.barBottom + 0.5 }, { x: xMax, y: b.barBottom + 0.5 }], showLine: true, pointRadius: 0, borderColor: '#aaa', borderWidth: 1 }
      ].concat(barSets)
    },
    options: {
      scales: {
        x: { min: xMin, max: xMax, display: false },
        y: { min: b.esBottom, max: b.bottom, reverse: true, display: false }
      }
    }
  });
}
gseaPanels.forEach(gseaPanel);

const titleFont = 'bold 16px ' + SERIF;
put(gseaPanels[0].title, 1051, 508, titleFont, { letterSpacing: '2.1px' });
put(gseaPanels[1].title, 1356, 508, titleFont, { letterSpacing: '1px' });
put(gseaPanels[2].title, 1646, 508, titleFont, { letterSpacing: '0.6px' });
put(gseaPanels[3].title, 1052, 744, 'bold 18.5px ' + SERIF, { letterSpacing: '0.5px' });
put(gseaPanels[4].title, 1360, 744, 'bold 18px ' + SERIF);
putLeft(gseaPanels[5].title, 1507, 744, 'bold 18px ' + SERIF, { letterSpacing: '1px' });

const statFont = 'bold 15px ' + SERIF;
const statSpots = [[1096, 549, 568], [1405, 549, 568], [1700, 548, 567], [1098, 782, 802], [1233, 862, 880], [1536, 862, 881]];
statSpots.forEach((s, i) => {
  putLeft(gseaPanels[i].nes, s[0], s[1], statFont);
  putLeft(gseaPanels[i].fdr, s[0], s[2], statFont);
});

const esFont = 'bold 15px ' + SERIF;
put('0.7', 907, 537, esFont);
put('0.0', 907, 633, esFont);
put('0.6', 1210, 537, esFont);
put('0.0', 1210, 616, esFont);
put('0.6', 1509, 537, esFont);
put('0.0', 1509, 626, esFont);
put('0.5', 908, 782, esFont);
put('0.0', 907, 871, esFont);
put('0.0', 1212, 777, esFont);
put('-0.5', 1209, 873, esFont);
put('0.0', 1512, 777, esFont);
put('-0.6', 1510, 879, esFont);

const rotate = { transform: 'translate(-50%,-50%) rotate(-90deg)', letterSpacing: '0.4px' };
put('Enrichment Score', 886, 593, 'bold 13px ' + SERIF, rotate);
put('Enrichment Score', 886, 829, 'bold 13px ' + SERIF, rotate);
</script>
</body>
</html>
